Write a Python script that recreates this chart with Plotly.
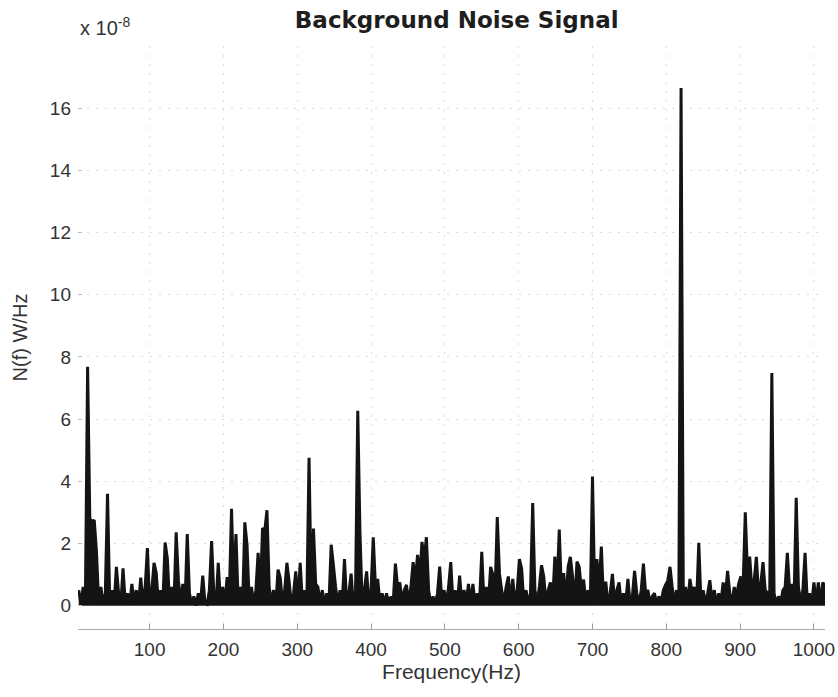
import plotly.graph_objects as go

# Frequency grid (Hz): 4, 7, 10, ..., 1015
freq_start = 4
freq_step = 3
# Noise power spectral density N(f), in units of 1e-8 W/Hz
psd_e8 = [
    0.5, 0.05, 0.6, 0.15, 7.68, 2.8, 2.7, 2.75, 1.75, 0.1,      # 4-31
    0.6, 0.05, 0.4, 3.6, 0.1, 0.5, 0.05, 1.25, 0.4, 0.05,       # 34-61
    1.2, 0.1, 0.4, 0.05, 0.7, 0.1, 0.5, 0.05, 0.9, 0.1,         # 64-91
    0.6, 1.85, 0.1, 0.5, 1.38, 1.05, 0.05, 0.5, 0.1, 2.03,      # 94-121
    1.53, 0.1, 0.6, 0.05, 2.36, 0.82, 0.1, 0.7, 0.05, 2.3,      # 124-151
    0.4, 0.05, 0.3, 0.0, 0.4, 0.1, 0.97, 0.1, 0.05, 0.5,        # 154-181
    2.08, 0.4, 0.05, 1.38, 0.1, 0.6, 0.05, 0.92, 0.3, 3.12,     # 184-211
    0.5, 2.3, 0.1, 0.6, 0.05, 2.68, 1.96, 0.1, 0.6, 0.05,       # 214-241
    0.5, 1.7, 0.4, 2.5, 2.4, 3.07, 0.6, 0.1, 0.5, 0.05,         # 244-271
    1.16, 0.9, 0.1, 0.5, 1.38, 0.78, 0.05, 0.4, 1.1, 0.1,       # 274-301
    1.38, 0.1, 0.5, 0.05, 4.76, 0.4, 2.48, 0.7, 0.6, 0.1,       # 304-331
    0.5, 0.05, 0.4, 0.1, 1.96, 1.3, 0.6, 0.05, 0.5, 0.1,        # 334-361
    1.5, 0.1, 0.4, 1.03, 0.05, 0.5, 6.27, 2.35, 0.1, 0.5,       # 364-391
    1.1, 0.1, 0.5, 2.2, 0.6, 0.86, 0.1, 0.4, 0.05, 0.4,         # 394-421
    0.05, 0.3, 0.1, 1.35, 0.6, 0.75, 0.1, 0.5, 0.67, 0.1,       # 424-451
    0.6, 1.4, 0.8, 1.63, 0.9, 2.05, 1.5, 2.2, 0.5, 0.05,        # 454-481
    0.3, 0.05, 0.4, 1.26, 0.1, 0.5, 0.05, 0.6, 1.4, 0.1,        # 484-511
    0.5, 0.05, 0.97, 0.1, 0.5, 0.1, 0.7, 0.1, 0.7, 0.05,        # 514-541
    0.4, 0.1, 1.73, 0.1, 0.6, 0.1, 1.25, 1.0, 0.4, 2.85,        # 544-571
    1.03, 0.5, 0.1, 0.6, 0.94, 0.1, 0.86, 0.1, 0.5, 1.5,        # 574-601
    1.2, 0.1, 0.5, 0.05, 0.4, 3.3, 0.5, 0.1, 0.6, 1.3,          # 604-631
    0.93, 0.1, 0.5, 0.75, 0.1, 1.58, 0.6, 2.45, 0.4, 1.05,      # 634-661
    0.1, 1.25, 1.57, 0.94, 0.1, 1.42, 1.25, 0.5, 0.84, 0.1,     # 664-691
    0.5, 0.05, 4.15, 0.4, 1.5, 0.6, 1.9, 0.1, 0.77, 0.05,       # 694-721
    0.4, 1.02, 0.1, 0.5, 0.75, 0.05, 0.4, 0.1, 0.86, 0.05,      # 724-751
    0.3, 1.12, 0.4, 0.05, 0.5, 1.35, 0.4, 0.5, 0.1, 0.3,        # 754-781
    0.4, 0.05, 0.3, 0.1, 0.5, 0.67, 0.8, 1.25, 0.6, 0.1,        # 784-811
    0.5, 0.05, 16.65, 0.4, 0.6, 0.1, 0.86, 0.4, 0.6, 0.05,      # 814-841
    2.02, 0.1, 0.5, 0.05, 0.4, 0.82, 0.1, 0.5, 0.05, 0.4,       # 844-871
    0.1, 0.75, 0.3, 1.12, 0.4, 0.1, 0.6, 0.3, 0.7, 0.94,        # 874-901
    0.6, 3.0, 1.0, 1.58, 0.5, 0.8, 1.57, 0.4, 0.7, 1.4,         # 904-931
    0.5, 0.42, 0.1, 7.48, 0.4, 0.05, 0.3, 0.1, 0.5, 0.6,        # 934-961
    1.7, 0.5, 0.7, 0.1, 3.47, 0.6, 0.1, 0.5, 1.7, 0.1,          # 964-991
    0.4, 0.05, 0.75, 0.1, 0.75, 0.05, 0.75, 0.6,                # 994-1015
]
freq = [freq_start + freq_step * i for i in range(len(psd_e8))]

x_ticks = [100, 200, 300, 400, 500, 600, 700, 800, 900, 1000]
y_ticks = [0, 2, 4, 6, 8, 10, 12, 14, 16]

sans = "Liberation Sans, Arial, sans-serif"
title_font = "DejaVu Sans, Verdana, sans-serif"
text_col = "#333333"
grid_col = "#dcdcdc"
grid_dash = "2px,7px"

fig = go.Figure()
# dense spectrum: drawn as a thick line with the area beneath filled, as the
# densely-sampled trace appears as a solid band in the original
fig.add_trace(go.Scatter(
    x=freq, y=psd_e8, mode="lines",
    line=dict(color="#141414", width=3, simplify=False),
    fill="tozeroy", fillcolor="#141414",
    hoverinfo="x+y", showlegend=False,
))

fig.update_layout(
    width=838, height=697,
    margin=dict(l=78, r=13, t=46, b=68, autoexpand=False),
    paper_bgcolor="white", plot_bgcolor="white",
    font=dict(family=sans, color=text_col, size=18),
    title=dict(text="<b>Background Noise Signal</b>", x=0.545, xanchor="center",
               xref="container", yref="container", y=0.972, yanchor="middle",
               font=dict(size=23, color="#1e1e1e", family=title_font)),
)
fig.update_xaxes(
    range=[3, 1015], tickvals=x_ticks, ticks="inside", ticklen=5,
    tickcolor="#999999", showline=True, linecolor="#aaaaaa", linewidth=1,
    showgrid=True, gridcolor=grid_col, griddash=grid_dash, gridwidth=1,
    zeroline=False, automargin=False, ticklabelstandoff=3,
    ticklabeloverflow="allow",
    title=dict(text="Frequency(Hz)", standoff=3,
               font=dict(size=21, color=text_col)),
    tickfont=dict(size=19, color=text_col),
)
fig.update_yaxes(
    range=[-0.75, 18], tickvals=y_ticks, ticks="inside", ticklen=4,
    tickcolor="#bbbbbb", showline=False,
    showgrid=True, gridcolor=grid_col, griddash=grid_dash, gridwidth=1,
    zeroline=False, automargin=False, ticklabelstandoff=6,
    title=dict(text="N(f) W/Hz", standoff=16,
               font=dict(size=20, color=text_col)),
    tickfont=dict(size=19, color=text_col),
)
fig.add_annotation(
    text="x 10<sup>-8</sup>", xref="paper", yref="paper",
    x=0.0, y=1.0, xanchor="left", yanchor="bottom", yshift=5, xshift=0,
    showarrow=False, font=dict(size=20, color=text_col, family=sans),
)

# remove the default 8px page margin so the 838x697 figure fills the window
fig.write_html("out.html",
               config={"displayModeBar": False},
               post_script="document.body.style.margin='0';"
                           "document.body.style.overflow='hidden';")
